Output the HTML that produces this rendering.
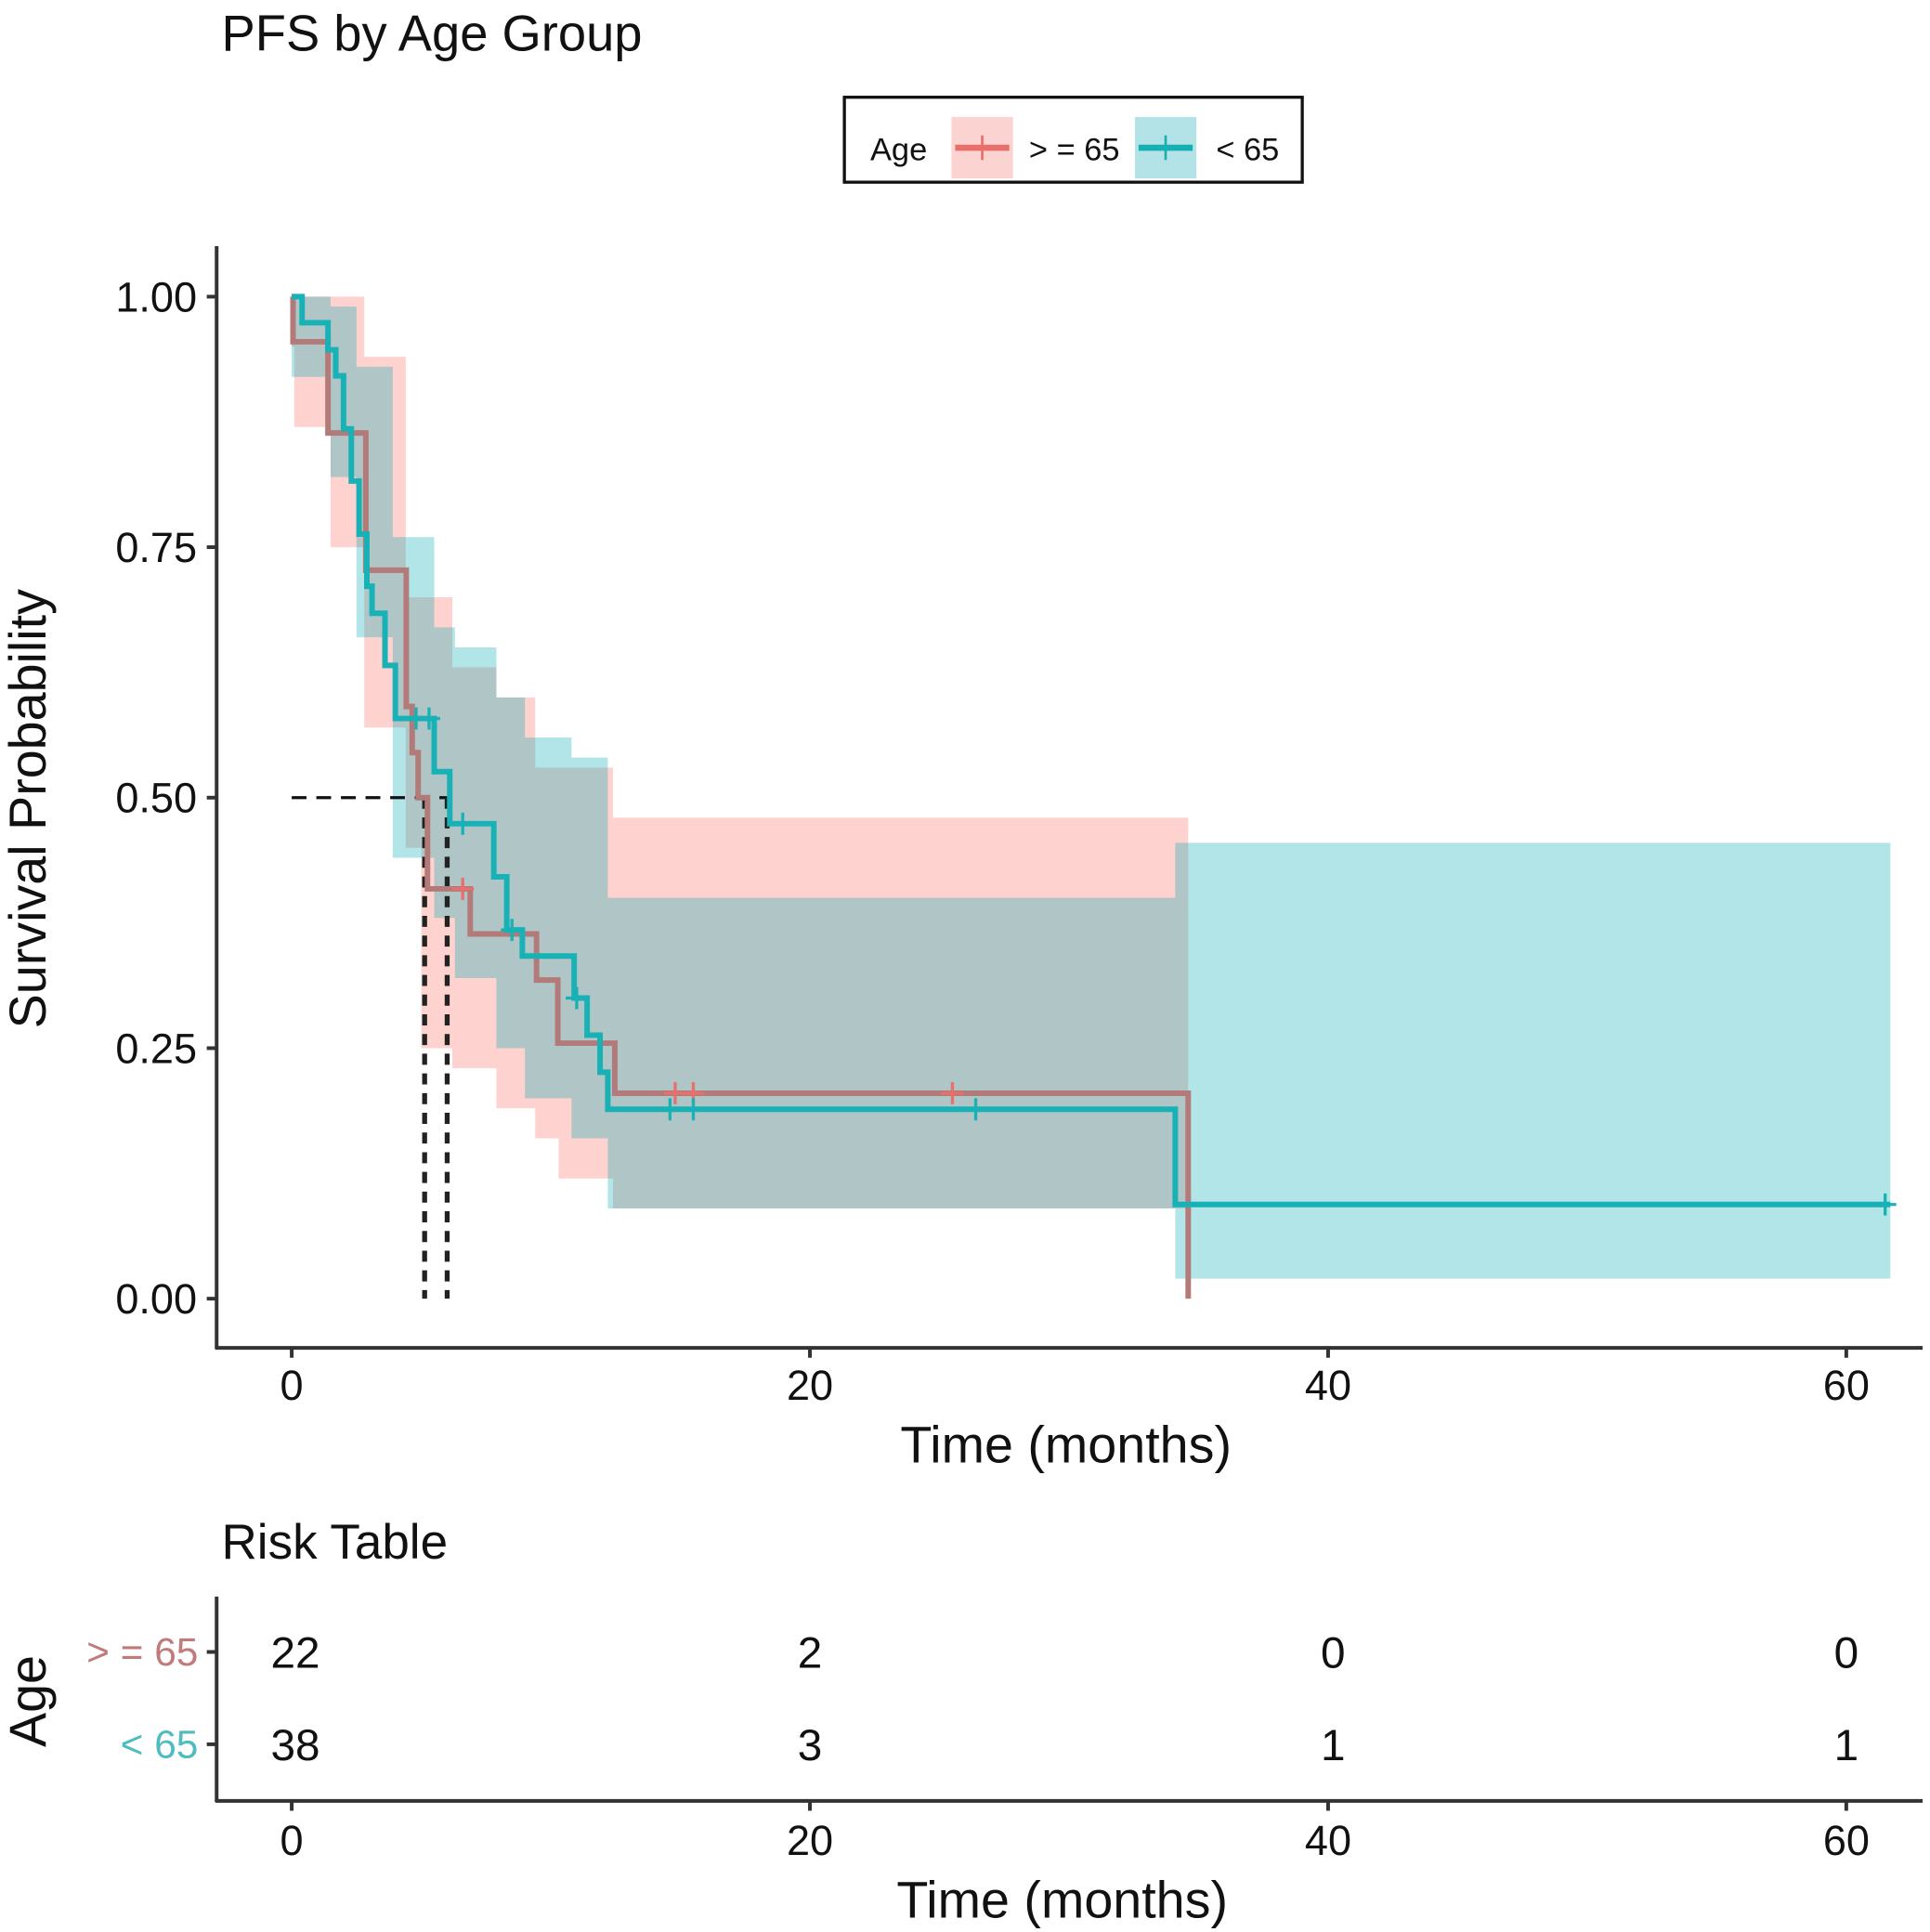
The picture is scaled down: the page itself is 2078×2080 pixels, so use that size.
<!DOCTYPE html>
<html><head><meta charset="utf-8"><style>
html,body{margin:0;padding:0;background:#fff;}
svg{display:block;font-family:"Liberation Sans",sans-serif;}
</style></head><body>
<svg id="chart" width="2078" height="2080" viewBox="0 0 1568 1569.5" xmlns="http://www.w3.org/2000/svg">
<rect width="1568" height="1569.5" fill="#fff"/>
<text x="180" y="41" font-size="41" fill="#111">PFS by Age Group</text>
<g>
<rect x="686" y="79" width="372" height="69" fill="#fff" stroke="#111" stroke-width="2.5"/>
<text x="707" y="130" font-size="26" fill="#111">Age</text>
<g>
<rect x="773" y="95" width="50" height="50" fill="#fbd3d0"/>
<line x1="776" y1="120" x2="820" y2="120" stroke="#e8706c" stroke-width="5"/>
<line x1="798" y1="110" x2="798" y2="130" stroke="#e8706c" stroke-width="2"/>
<text x="836" y="130" font-size="26" fill="#111">&gt; = 65</text></g>
<g>
<rect x="922" y="95" width="50" height="50" fill="#b3e3e6"/>
<line x1="925" y1="120" x2="969" y2="120" stroke="#16b0b4" stroke-width="5"/>
<line x1="947" y1="110" x2="947" y2="130" stroke="#16b0b4" stroke-width="2"/>
<text x="988" y="130" font-size="26" fill="#111">&lt; 65</text></g>
</g>
<g id="plot"></g>
<g id="risk"></g>
</svg>
<script>
// ---- data ----
const redTimes = [0.05, 1.4, 2.86, 4.42, 4.65, 4.88, 5.24, 6.89, 9.45, 10.27, 12.47, 34.6];
const redSurv  = [0.955, 0.864, 0.727, 0.591, 0.545, 0.5, 0.409, 0.364, 0.318, 0.255, 0.205, 0];
const redCensor = [6.6, 14.8, 15.5, 25.5];
const tealTimes = [0.4, 1.4, 1.7, 2.0, 2.3, 2.6, 2.9, 3.1, 3.6, 4.0, 5.5, 6.1, 7.8, 8.3, 8.9, 10.9, 11.4, 11.9, 12.2, 34.1];
const tealSurv  = [0.974, 0.947, 0.921, 0.868, 0.816, 0.763, 0.711, 0.684, 0.632, 0.579, 0.526, 0.474, 0.421, 0.368, 0.342, 0.30, 0.263, 0.226, 0.189, 0.094];
const tealCensor = [4.8, 5.3, 6.6, 8.5, 11.0, 14.6, 15.5, 26.4, 61.5];
const tealEnd = 61.7;
const redEnd = 34.6;
const redBandT = [0, 0.1, 1.5, 2.8, 4.4, 5.0, 6.2, 7.9, 9.4, 10.3, 12.4];
const redBandUp = [1.0, 1.0, 1.0, 0.94, 0.70, 0.70, 0.63, 0.60, 0.53, 0.53, 0.48];
const redBandLo = [0.95, 0.87, 0.75, 0.57, 0.45, 0.25, 0.23, 0.19, 0.16, 0.12, 0.09];
const tealBandT = [0, 1.5, 2.5, 3.9, 5.5, 6.3, 7.9, 9.0, 10.8, 12.2, 34.1];
const tealBandUp = [1.0, 0.99, 0.93, 0.76, 0.67, 0.65, 0.60, 0.56, 0.54, 0.40, 0.455];
const tealBandLo = [0.92, 0.82, 0.66, 0.44, 0.38, 0.32, 0.25, 0.20, 0.16, 0.09, 0.02];
const xTicks = [0, 20, 40, 60];
const yTicks = [0, 0.25, 0.5, 0.75, 1.0];
const yTickLabels = ["0.00", "0.25", "0.50", "0.75", "1.00"];
const medians = [5.13, 6.0];
const riskGroups = ["> = 65", "< 65"];
const riskGe65 = [22, 2, 0, 0];
const riskLt65 = [38, 3, 1, 1];

const NS = "http://www.w3.org/2000/svg";
const X = t => 237 + t * 21.05;
const Y = s => 1055 - s * 814;
function mk(parent, tag, attrs, txt) {
  const e = document.createElementNS(NS, tag);
  for (const k in attrs) e.setAttribute(k, attrs[k]);
  if (txt !== undefined) e.textContent = txt;
  parent.appendChild(e);
  return e;
}
const plot = document.getElementById('plot');

function bandPath(T, U, L, end) {
  let up = "", lo = [];
  for (let i = 0; i < T.length; i++) {
    const t1 = i + 1 < T.length ? T[i + 1] : end;
    up += (i === 0 ? "M" : "L") + X(T[i]) + "," + Y(U[i]) + "L" + X(t1) + "," + Y(U[i]);
    lo.unshift("L" + X(t1) + "," + Y(L[i]) + "L" + X(T[i]) + "," + Y(L[i]));
  }
  return up + lo.join("") + "Z";
}
const rb = mk(plot, 'path', {d: bandPath(redBandT, redBandUp, redBandLo, redEnd), fill: '#F8766D', 'fill-opacity': 0.33});


const tb = mk(plot, 'path', {d: bandPath(tealBandT, tealBandUp, tealBandLo, tealEnd), fill: '#00A8B0', 'fill-opacity': 0.30});



const mh = mk(plot, 'line', {x1: X(0), y1: Y(0.5), x2: X(medians[1]), y2: Y(0.5), stroke: '#111', 'stroke-width': 2.5, 'stroke-dasharray': '12,8'});


medians.forEach(m => {
  const l = mk(plot, 'line', {x1: X(m), y1: Y(0.5), x2: X(m), y2: Y(0), stroke: '#222', 'stroke-width': 4, 'stroke-dasharray': '9,7'});
  
  
});

function stepPath(T, S, end) {
  let d = "M" + X(0) + "," + Y(1);
  let s = 1;
  for (let i = 0; i < T.length; i++) {
    d += "L" + X(T[i]) + "," + Y(s);
    s = S[i];
    d += "L" + X(T[i]) + "," + Y(s);
  }
  if (end > T[T.length - 1]) d += "L" + X(end) + "," + Y(s);
  return d;
}
function survAt(T, S, t) { let s = 1; for (let i = 0; i < T.length; i++) if (T[i] <= t) s = S[i]; return s; }

const rl = mk(plot, 'path', {d: stepPath(redTimes, redSurv, redEnd), fill: 'none', stroke: '#b27a78', 'stroke-width': 4.5});


redCensor.forEach(t => {
  const c = mk(plot, 'path', {d: `M${X(t)-9},${Y(survAt(redTimes, redSurv, t))}h18M${X(t)},${Y(survAt(redTimes, redSurv, t))-9}v18`, stroke: '#e8706c', 'stroke-width': 2.5});
  
  
});
const tl = mk(plot, 'path', {d: stepPath(tealTimes, tealSurv, tealEnd), fill: 'none', stroke: '#17b1b6', 'stroke-width': 4.5});


tealCensor.forEach(t => {
  const c = mk(plot, 'path', {d: `M${X(t)-9},${Y(survAt(tealTimes, tealSurv, t))}h18M${X(t)},${Y(survAt(tealTimes, tealSurv, t))-9}v18`, stroke: '#17b1b6', 'stroke-width': 2.5});
  
  
});

const ya = mk(plot, 'line', {x1: 176, y1: 200, x2: 176, y2: 1096, stroke: '#333', 'stroke-width': 3});


const xa = mk(plot, 'line', {x1: 175, y1: 1095, x2: 1562, y2: 1095, stroke: '#333', 'stroke-width': 3});


yTicks.forEach((v, i) => {
  mk(plot, 'line', {x1: 168, y1: Y(v), x2: 176, y2: Y(v), stroke: '#333', 'stroke-width': 3});
  const t = mk(plot, 'text', {x: 160, y: Y(v) + 12, 'font-size': 34, 'text-anchor': 'end', fill: '#111'}, yTickLabels[i]);
  
  
});
xTicks.forEach(v => {
  mk(plot, 'line', {x1: X(v), y1: 1095, x2: X(v), y2: 1103, stroke: '#333', 'stroke-width': 3});
  const t = mk(plot, 'text', {x: X(v), y: 1137, 'font-size': 34, 'text-anchor': 'middle', fill: '#111'}, String(v));
  
  
});
const xt = mk(plot, 'text', {x: 866, y: 1188, 'font-size': 42, 'text-anchor': 'middle', fill: '#111'}, 'Time (months)');


const yt = mk(plot, 'text', {x: 0, y: 0, 'font-size': 42, 'text-anchor': 'middle', fill: '#111', transform: 'translate(37,657) rotate(-90)'}, 'Survival Probability');



const risk = document.getElementById('risk');
const rt = mk(risk, 'text', {x: 180, y: 1266, 'font-size': 40, fill: '#111'}, 'Risk Table');


mk(risk, 'line', {x1: 176, y1: 1297, x2: 176, y2: 1464, stroke: '#333', 'stroke-width': 3});
mk(risk, 'line', {x1: 175, y1: 1463, x2: 1562, y2: 1463, stroke: '#333', 'stroke-width': 3});
const rowY = [1342, 1417];
const rowCol = ['#c27b7b', '#4fbcc2'];
const rowVals = [riskGe65, riskLt65];
const riskX = [240, 658, 1083, 1500];
riskGroups.forEach((g, i) => {
  mk(risk, 'line', {x1: 168, y1: rowY[i], x2: 176, y2: rowY[i], stroke: '#333', 'stroke-width': 3});
  const l = mk(risk, 'text', {x: 161, y: rowY[i] + 11, 'font-size': 32, 'text-anchor': 'end', fill: rowCol[i]}, g);
  
  
  rowVals[i].forEach((v, j) => {
    const c = mk(risk, 'text', {x: riskX[j], y: rowY[i] + 13, 'font-size': 36, 'text-anchor': 'middle', fill: '#111'}, String(v));
    
    
  });
});
xTicks.forEach(v => {
  mk(risk, 'line', {x1: X(v), y1: 1463, x2: X(v), y2: 1471, stroke: '#333', 'stroke-width': 3});
  const t = mk(risk, 'text', {x: X(v), y: 1507, 'font-size': 34, 'text-anchor': 'middle', fill: '#111'}, String(v));
  
  
});
const rxt = mk(risk, 'text', {x: 863, y: 1558, 'font-size': 42, 'text-anchor': 'middle', fill: '#111'}, 'Time (months)');


const ryt = mk(risk, 'text', {x: 0, y: 0, 'font-size': 42, 'text-anchor': 'middle', fill: '#111', transform: 'translate(37,1382) rotate(-90)'}, 'Age');


</script>
</body></html>
